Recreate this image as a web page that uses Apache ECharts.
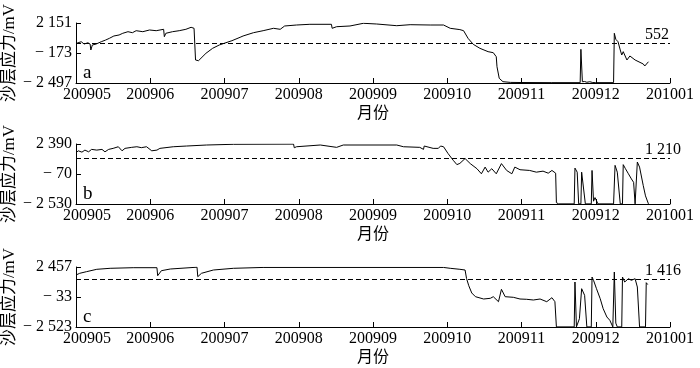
<!DOCTYPE html>
<html><head><meta charset="utf-8">
<script src="https://cdn.jsdelivr.net/npm/echarts@6/dist/echarts.min.js"></script>
<style>html,body{margin:0;padding:0;background:#fff}#c{width:700px;height:368px}</style>
</head><body><div id="c"></div>
<script>
const monthLabels = ['200905','200906','200907','200908','200909','200910','200911','200912','201001'];
const panelLetters = ['a','b','c'];
const yMins = [-2497, -2530, -2523];
const yMaxs = [2151, 2390, 2457];
const refValues = [552, 1210, 1416];
const yName = '沙层应力/mV';
const xName = '月份';

// [month index from 200905, value in mV]
const seriesA = [[0.00,560],[0.02,580],[0.07,700],[0.11,520],[0.16,620],[0.19,520],[0.20,60],[0.22,447],[0.27,520],[0.34,700],[0.40,834],[0.45,966],[0.51,1144],[0.58,1222],[0.63,1354],[0.70,1477],[0.76,1400],[0.81,1555],[0.90,1477],[0.99,1609],[1.08,1555],[1.18,1663],[1.19,1090],[1.21,1354],[1.30,1477],[1.39,1555],[1.48,1663],[1.55,1818],[1.59,1740],[1.61,-715],[1.65,-770],[1.75,-196],[1.84,190],[1.93,447],[2.02,625],[2.10,780],[2.21,1043],[2.25,1144],[2.39,1400],[2.52,1555],[2.66,1740],[2.75,1663],[2.81,1919],[2.97,1996],[3.15,2050],[3.44,2050],[3.45,1740],[3.51,1865],[3.69,1919],[3.87,2128],[4.05,2073],[4.32,1942],[4.50,2020],[4.77,1996],[4.95,1996],[5.04,1740],[5.17,1640],[5.22,1555],[5.28,966],[5.35,500],[5.44,190],[5.55,-70],[5.62,-150],[5.66,-460],[5.67,-1235],[5.70,-2133],[5.75,-2395],[5.85,-2450],[6.00,-2460],[6.40,-2470],[6.79,-2470],[6.80,114],[6.82,-2400],[6.85,-2380],[6.88,-2440],[6.92,-2400],[6.96,-2460],[7.00,-2470],[7.24,-2470],[7.25,1354],[7.27,888],[7.30,700],[7.33,60],[7.35,-328],[7.37,-70],[7.42,-715],[7.46,-405],[7.53,-715],[7.64,-1025],[7.66,-1180],[7.71,-850]];

const seriesB = [[0.00,1665],[0.03,1832],[0.08,1723],[0.12,1890],[0.17,1749],[0.21,1948],[0.28,1890],[0.35,1948],[0.39,1749],[0.44,1948],[0.50,2032],[0.57,2165],[0.62,1832],[0.66,2032],[0.75,2115],[0.82,2165],[0.88,2090],[0.95,2165],[1.02,1832],[1.04,1948],[1.09,1890],[1.13,2032],[1.31,2165],[1.49,2224],[1.76,2307],[2.12,2365],[2.93,2380],[2.94,2082],[2.97,2165],[3.29,2307],[3.51,2115],[3.60,2307],[4.32,2307],[4.41,2165],[4.63,2115],[4.68,1948],[4.69,2224],[4.81,2032],[4.88,2032],[4.91,2224],[4.95,2165],[5.01,1615],[5.08,1056],[5.13,700],[5.17,800],[5.24,1198],[5.31,781],[5.40,364],[5.46,-53],[5.51,497],[5.55,80],[5.60,364],[5.66,-53],[5.73,781],[5.80,222],[5.87,-53],[5.91,497],[5.98,281],[6.11,222],[6.20,80],[6.29,164],[6.36,-3],[6.41,222],[6.46,-3],[6.47,-2420],[6.50,-2520],[6.71,-2520],[6.72,414],[6.75,80],[6.77,-2520],[6.80,-2520],[6.81,80],[6.83,0],[6.86,-2520],[6.94,-2520],[6.95,222],[6.97,-2300],[6.99,-2005],[7.01,-2140],[7.03,-2520],[7.24,-2520],[7.26,639],[7.29,80],[7.33,-2520],[7.36,-2520],[7.37,697],[7.40,364],[7.44,-53],[7.48,-470],[7.51,-754],[7.53,-2520],[7.56,914],[7.59,497],[7.64,-1029],[7.67,-1863],[7.71,-2520]];

const seriesC = [[0.00,1793],[0.05,1934],[0.14,2067],[0.28,2266],[0.46,2349],[0.77,2399],[1.09,2399],[1.10,1735],[1.15,2150],[1.27,2291],[1.63,2440],[1.64,1652],[1.69,1934],[1.85,2208],[2.12,2349],[2.52,2420],[4.95,2420],[5.04,2349],[5.17,2266],[5.24,2208],[5.26,1500],[5.29,900],[5.33,300],[5.38,-8],[5.49,-199],[5.58,-141],[5.62,-8],[5.69,-423],[5.73,606],[5.78,-8],[5.89,-58],[5.98,-199],[6.07,-224],[6.16,-282],[6.25,-199],[6.34,-423],[6.41,-91],[6.45,-423],[6.47,-2515],[6.71,-2515],[6.72,1212],[6.74,-2515],[6.78,-1834],[6.81,656],[6.83,382],[6.85,108],[6.88,-2515],[6.94,-2515],[6.95,1627],[6.97,1353],[7.01,656],[7.06,-174],[7.10,-1004],[7.15,-1693],[7.19,-1967],[7.23,-2515],[7.25,2042],[7.27,-2200],[7.29,-2515],[7.35,-2515],[7.36,1627],[7.39,1212],[7.44,1486],[7.48,1353],[7.53,1486],[7.56,797],[7.59,-2515],[7.67,-2515],[7.68,1154],[7.70,1000]];

const allSeries = [seriesA, seriesB, seriesC];
const serif = "'Liberation Serif','Noto Sans CJK SC'";

function fmt(v) {
  const s = Math.abs(Math.round(v)).toString().replace(/\B(?=(\d{3})+(?!\d))/g, ' ');
  return (v < 0 ? '− ' : '') + s;
}

const tops = [23, 144, 267];
const grids = [], xAxes = [], yAxes = [], series = [], graphics = [];
for (let i = 0; i < 3; i++) {
  grids.push({left: 76, right: 30, top: tops[i], height: 60, containLabel: false, outerBoundsMode: 'none'});
  xAxes.push({
    type: 'value', gridIndex: i, min: 0, max: 8, interval: 1,
    axisLine: {onZero: false, lineStyle: {color: '#000', width: 1}},
    axisTick: {inside: true, length: 5, lineStyle: {color: '#000'}},
    splitLine: {show: false},
    axisLabel: {
      formatter: v => { const k = Math.round(v); return k === 0 ? '{f|' + monthLabels[k] + '}' : monthLabels[k]; },
      rich: {f: {padding: [0, 0, 0, 22], color: '#000', fontSize: 16, fontFamily: serif}},
      color: '#000', fontSize: 16, fontFamily: serif, margin: 4
    },
    name: xName, nameLocation: 'middle', nameGap: 23, nameMoveOverlap: false,
    nameTextStyle: {color: '#000', fontSize: 16, fontFamily: serif}
  });
  yAxes.push({
    type: 'value', gridIndex: i, min: yMins[i], max: yMaxs[i], interval: (yMaxs[i] - yMins[i]) / 2,
    axisLine: {show: true, onZero: false, lineStyle: {color: '#000', width: 1}},
    axisTick: {show: true, inside: true, length: 5, lineStyle: {color: '#000'}},
    splitLine: {show: false},
    axisLabel: {formatter: fmt, color: '#000', fontSize: 16, fontFamily: serif, margin: 4},
    name: yName, nameLocation: 'middle', nameRotate: 90, nameGap: 58, nameMoveOverlap: false,
    nameTextStyle: {color: '#000', fontSize: 17, fontFamily: serif}
  });
  series.push({
    type: 'line', xAxisIndex: i, yAxisIndex: i, data: allSeries[i],
    showSymbol: false, symbol: 'none', animation: false,
    lineStyle: {color: '#000', width: 1},
    markLine: {
      silent: true, symbol: 'none', animation: false,
      lineStyle: {color: '#000', type: [5, 3], width: 1},
      label: {show: true, position: 'end', distance: 5, offset: [-30, -9], formatter: fmt(refValues[i]), color: '#000', fontSize: 16, fontFamily: serif},
      data: [{yAxis: refValues[i]}]
    }
  });
  graphics.push({
    type: 'text', left: 83, top: tops[i] + 41,
    style: {text: panelLetters[i], fill: '#000', font: "19px 'Liberation Serif'"}
  });
}

const chart = echarts.init(document.getElementById('c'), null, {renderer: 'canvas'});
chart.setOption({
  animation: false,
  backgroundColor: '#fff',
  grid: grids, xAxis: xAxes, yAxis: yAxes, series: series, graphic: graphics
});
</script>
</body></html>
